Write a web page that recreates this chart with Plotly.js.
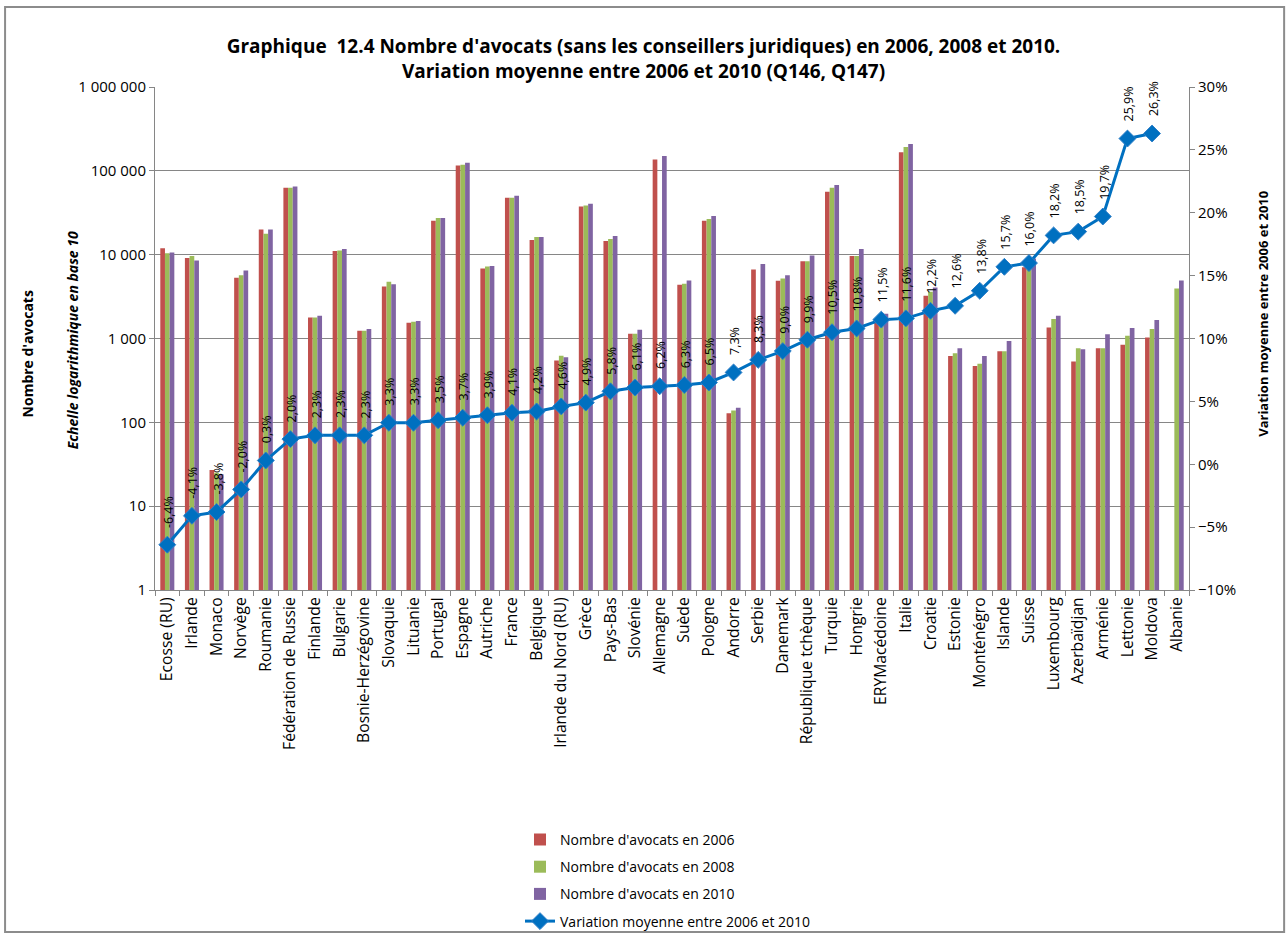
<!DOCTYPE html>
<html>
<head>
<meta charset="utf-8">
<script src="https://cdn.plot.ly/plotly-3.0.1.min.js"></script>
<style>html,body{margin:0;padding:0;background:#fff;}#chart{width:1287px;height:949px;}</style>
</head>
<body>
<div id="chart"></div>
<script>
const categories = ["Ecosse (RU)", "Irlande", "Monaco", "Norvège", "Roumanie", "Fédération de Russie", "Finlande", "Bulgarie", "Bosnie-Herzégovine", "Slovaquie", "Lituanie", "Portugal", "Espagne", "Autriche", "France", "Belgique", "Irlande du Nord (RU)", "Grèce", "Pays-Bas", "Slovénie", "Allemagne", "Suède", "Pologne", "Andorre", "Serbie", "Danemark", "République tchèque", "Turquie", "Hongrie", "ERYMacédoine", "Italie", "Croatie", "Estonie", "Monténégro", "Islande", "Suisse", "Luxembourg", "Azerbaïdjan", "Arménie", "Lettonie", "Moldova", "Albanie"];

const avocats2006 = [11900, 9140, 27, 5290, 20000, 62800, 1780, 11070, 1238, 4170, 1542, 25400, 115700, 6830, 47700, 14970, 545, 37660, 14560, 1140, 136500, 4365, 25400, 128, 6640, 4870, 8340, 56300, 9660, 1550, 166800, 3230, 618, 470, 703, 7100, 1357, 530, 763, 844, 1031, null];

const avocats2008 = [10400, 9660, 25, 5690, 17800, 62800, 1780, 11250, 1238, 4740, 1585, 27300, 117800, 7210, 47700, 16250, 624, 38700, 15390, 1140, null, 4485, 26600, 138, null, 5190, 8340, 62800, 9660, 1780, 192800, 3600, 665, 501, 703, 8000, 1705, 763, 763, 1080, 1296, 3950];

const avocats2010 = [10600, 8500, 24, 6460, 20000, 65100, 1870, 11700, 1296, 4450, 1614, 27300, 124500, 7340, 50400, 16250, 597, 40500, 16700, 1273, 150700, 4917, 28900, 149, 7760, 5690, 9750, 67600, 11700, 1980, 209600, 4057, 763, 618, 933, 9000, 1868, 743, 1120, 1332, 1658, 4917];

const variation = [-6.4, -4.1, -3.8, -2.0, 0.3, 2.0, 2.3, 2.3, 2.3, 3.3, 3.3, 3.5, 3.7, 3.9, 4.1, 4.2, 4.6, 4.9, 5.8, 6.1, 6.2, 6.3, 6.5, 7.3, 8.3, 9.0, 9.9, 10.5, 10.8, 11.5, 11.6, 12.2, 12.6, 13.8, 15.7, 16.0, 18.2, 18.5, 19.7, 25.9, 26.3, null];

const leftTickVals = [1, 10, 100, 1000, 10000, 100000, 1000000];
const leftTickText = ["1", "10", "100", "1 000", "10 000", "100 000", "1 000 000"];

const FONT = "Open Sans, sans-serif";
const fmtPct = v => v.toFixed(1).replace('.', ',') + '%';

const traces = [
  {type: 'bar', name: "Nombre d'avocats en 2006", x: categories, y: avocats2006, marker: {color: '#C0504D'}, legendgroup: 'a'},
  {type: 'bar', name: "Nombre d'avocats en 2008", x: categories, y: avocats2008, marker: {color: '#9BBB59'}, legendgroup: 'b'},
  {type: 'bar', name: "Nombre d'avocats en 2010", x: categories, y: avocats2010, marker: {color: '#8064A2'}, legendgroup: 'c'},
  {type: 'scatter', mode: 'lines+markers', name: 'Variation moyenne entre 2006 et 2010', x: categories, y: variation, yaxis: 'y2',
   line: {color: '#0070C0', width: 3}, marker: {symbol: 'diamond', size: 13, color: '#0070C0', line: {color: '#2F7FC8', width: 1}},
   connectgaps: false, legendgroup: 'd'}
];

const annotations = [];
variation.forEach((v, i) => {
  if (v === null) return;
  annotations.push({x: categories[i], y: v, xref: 'x', yref: 'y2', text: fmtPct(v), showarrow: false,
    textangle: -90, yanchor: 'bottom', xanchor: 'center', yshift: 15, xshift: 1,
    font: {family: FONT, size: 12.5, color: '#000'}});
});
annotations.push({xref: 'paper', yref: 'paper', x: -0.123, y: 0.47, text: "<b>Nombre d'avocats</b>", showarrow: false,
  textangle: -90, xanchor: 'center', yanchor: 'middle', font: {family: FONT, size: 14, color: '#000'}});
annotations.push({xref: 'paper', yref: 'paper', x: -0.08, y: 0.497, text: "<b><i>Echelle logarithmique en base 10</i></b>", showarrow: false,
  textangle: -90, xanchor: 'center', yanchor: 'middle', font: {family: FONT, size: 14, color: '#000'}});
annotations.push({xref: 'paper', yref: 'paper', x: 1.072, y: 0.55, text: "<b>Variation moyenne entre 2006 et 2010</b>", showarrow: false,
  textangle: -90, xanchor: 'center', yanchor: 'middle', font: {family: FONT, size: 13, color: '#000'}});

const layout = {
  width: 1287, height: 949,
  margin: {l: 155, r: 98, t: 87, b: 351},
  paper_bgcolor: '#fff', plot_bgcolor: '#fff',
  font: {family: FONT, size: 14, color: '#000'},
  title: {text: "<b>Graphique  12.4 Nombre d'avocats (sans les conseillers juridiques) en 2006, 2008 et 2010.</b><br><b>Variation moyenne entre 2006 et 2010 (Q146, Q147)</b>",
    font: {family: FONT, size: 19, color: '#000'}, x: 0.5, xanchor: 'center', y: 0.944, yanchor: 'middle', yref: 'container'},
  barmode: 'group', bargap: 0.43, bargroupgap: 0,
  showlegend: true,
  legend: {orientation: 'v', x: 0.353, y: -0.465, xanchor: 'left', yanchor: 'top', font: {family: FONT, size: 14, color: '#000'},
    tracegroupgap: 6, bgcolor: 'rgba(0,0,0,0)'},
  xaxis: {type: 'category', range: [-0.5, categories.length - 0.5], autorange: false, tickangle: -90,
    tickfont: {family: FONT, size: 15.7, color: '#000'},
    showline: true, linecolor: '#868686', linewidth: 1, ticks: 'outside', tickson: 'boundaries', ticklen: 5, tickcolor: '#868686',
    showgrid: false, automargin: false},
  yaxis: {type: 'log', range: [0, 6], tickvals: leftTickVals, ticktext: leftTickText, tickfont: {family: FONT, size: 15, color: '#000'},
    showgrid: true, gridcolor: '#868686', gridwidth: 1, showline: true, linecolor: '#868686', ticks: 'outside', ticklen: 5, tickcolor: '#868686',
    zeroline: false, automargin: false},
  yaxis2: {overlaying: 'y', side: 'right', range: [-10, 30], dtick: 5, tick0: 0, ticksuffix: '%', tickfont: {family: FONT, size: 15, color: '#000'},
    showgrid: false, zeroline: false, showline: true, linecolor: '#868686', ticks: 'outside', ticklen: 5, tickcolor: '#868686', automargin: false},
  annotations: annotations,
  shapes: [{type: 'rect', xref: 'paper', yref: 'paper', x0: -0.145, x1: 1.092, y0: -0.68, y1: 1.159, line: {color: '#8c8c8c', width: 2}, fillcolor: 'rgba(0,0,0,0)', layer: 'below'}]
};

Plotly.newPlot('chart', traces, layout, {displayModeBar: false, staticPlot: true});
</script>
</body>
</html>
